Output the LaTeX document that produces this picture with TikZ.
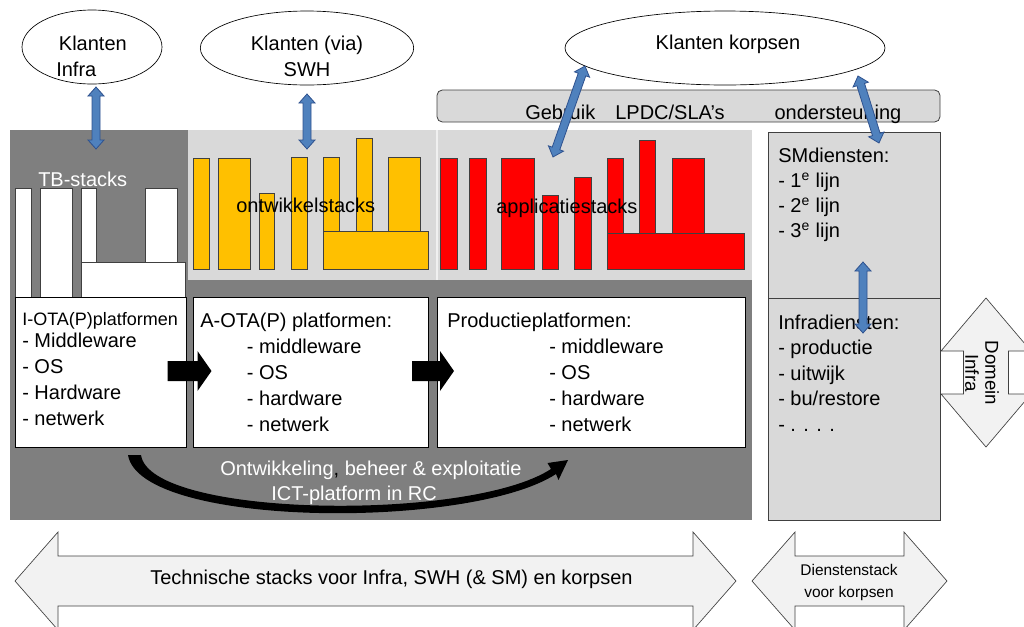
\documentclass[tikz,border=0pt]{standalone}
\usepackage{fontspec}
\setmainfont{Liberation Sans}
\usetikzlibrary{shapes.geometric}
\definecolor{Dark}{HTML}{7F7F7F}
\definecolor{Light}{HTML}{D9D9D9}
\definecolor{Outline}{HTML}{404040}
\definecolor{StackYellow}{HTML}{FFC000}
\definecolor{StackRed}{HTML}{FF0000}
\definecolor{ArrowBlue}{HTML}{4F81BD}
\definecolor{BlueLine}{HTML}{2F528F}
\definecolor{ArrowGray}{HTML}{F2F2F2}
\tikzset{klant/.style={ellipse,draw=black,fill=white,line width=.5pt,inner sep=0pt},panel/.style={rectangle,draw=black,fill=white,line width=.6pt,inner sep=0pt},dienst/.style={rectangle,draw=Outline,fill=Light,line width=.6pt,inner sep=0pt},txt/.style={inner sep=0pt,align=left,font=\fontsize{15}{19.5}\selectfont},tbstack/.style={draw=Outline,fill=white,line width=.5pt},ostack/.style={draw=Outline,fill=StackYellow,line width=.5pt},astack/.style={draw=Outline,fill=StackRed,line width=.5pt},bluedbl/.style={draw=BlueLine,fill=ArrowBlue,line width=.6pt,line join=miter},graydbl/.style={draw=Outline,fill=ArrowGray,line width=.5pt},blkarrow/.style={fill=black}}
% #1 style, #2/#3 centre, #4 angle, #5 half length, #6 head length, #7 head half width, #8 shaft half width
\newcommand{\dblpijl}[8]{\begin{scope}[shift={(#2,#3)},rotate=#4]
  \path[#1] (-#5,0) -- ({-#5+#6},#7) -- ({-#5+#6},#8) -- ({#5-#6},#8) -- ({#5-#6},#7) -- (#5,0)
    -- ({#5-#6},-#7) -- ({#5-#6},-#8) -- ({-#5+#6},-#8) -- ({-#5+#6},-#7) -- cycle;
  \end{scope}}
\newcommand{\enkpijl}[8]{\begin{scope}[shift={(#2,#3)},rotate=#4]
  \path[#1] (-#5,-#8) -- ({#5-#6},-#8) -- ({#5-#6},-#7) -- (#5,0) -- ({#5-#6},#7) -- ({#5-#6},#8) -- (-#5,#8) -- cycle;
  \end{scope}}

\begin{document}
\begin{tikzpicture}[x=0.75pt,y=-0.75pt]
  \useasboundingbox (0,0) rectangle (1024,626);
  % regions
  \fill[Dark] (10,130) rectangle (752,520);
  \fill[Light] (188,130) rectangle (752,280);
  \draw[white!60!Light,line width=1pt] (437,130) -- (437,280);
  % TB stacks
  \foreach \a/\b in {15/31,40/72}
    \draw[tbstack] (\a,188) rectangle (\b,298);
  \foreach \a/\b in {81/96,145/177}
    \draw[tbstack] (\a,188) rectangle (\b,262);
  \draw[tbstack] (81,262) rectangle (185,298);
  % ontwikkelstacks
  \foreach \a/\b/\t in {193/209/158,218/250/158,259/274/193,291/307/157}
    \draw[ostack] (\a,\t) rectangle (\b,269);
  \foreach \a/\b/\t in {323/339/157,356/372/138,388/420/157}
    \draw[ostack] (\a,\t) rectangle (\b,231);
  \draw[ostack] (323,231) rectangle (428,269);
  % applicatiestacks
  \foreach \a/\b/\t in {440/457/158,469/486/158,501/534/158,542/558/195,574/591/177}
    \draw[astack] (\a,\t) rectangle (\b,269);
  \foreach \a/\b/\t in {607/623/158,639/655/140,672/704/158}
    \draw[astack] (\a,\t) rectangle (\b,233);
  \draw[astack] (607,233) rectangle (744,269);
  \node[txt,text=white,anchor=base west] (tbT) at (38,186) {TB-stacks};
  \node[txt,anchor=base west] (ontT) at (236,212) {ontwikkelstacks};
  \node[txt,anchor=base west] (appT) at (496,213) {applicatiestacks};
  % platformen
  \node[panel,minimum width=128.25pt,minimum height=112.5pt] (iota) at (100.5,372) {};
  \node[panel,minimum width=176.25pt,minimum height=112.5pt] (aota) at (310.5,372) {};
  \node[panel,minimum width=231pt,minimum height=112.5pt] (prod) at (591,372) {};
  \node[txt,anchor=base west,font=\fontsize{13.5}{16}\selectfont] (iotaH) at (22,325) {I-OTA(P)platformen};
  \node[txt,anchor=north west] (iotaL) at (22,332.4) {- Middleware\\- OS\\- Hardware\\- netwerk};
  \node[txt,anchor=north west] (aotaL) at (200,312.4) {A-OTA(P) platformen:\\\hspace*{35pt}- middleware\\\hspace*{35pt}- OS\\\hspace*{35pt}- hardware\\\hspace*{35pt}- netwerk};
  \node[txt,anchor=north west] (prodL) at (447,312.4) {Productieplatformen:\\\hspace*{76.5pt}- middleware\\\hspace*{76.5pt}- OS\\\hspace*{76.5pt}- hardware\\\hspace*{76.5pt}- netwerk};
  \enkpijl{blkarrow}{189.5}{371}{0}{22}{14}{20}{10}
  \enkpijl{blkarrow}{433}{371}{0}{21}{14}{20}{10}
  % ontwikkelcyclus
  \fill[black] (128,455) .. controls (140,528) and (470,530) .. (556,474) -- (558.5,480) -- (568,460) -- (547.5,463) -- (551,469) .. controls (470,522) and (150,518) .. (141,455) -- cycle;
  \node[txt,text=white,anchor=base west] (devT1) at (220,475) {Ontwikkeling{\color{black},} beheer \& exploitatie};
  \node[txt,text=white,anchor=base west] (devT2) at (271,500) {ICT-platform in RC};
  % diensten
  \node[dienst,minimum width=129pt,minimum height=124.5pt] (smd) at (854,215) {};
  \node[dienst,minimum width=129pt,minimum height=166.5pt] (infrad) at (854,409) {};
  \node[txt,anchor=north west,font=\fontsize{15}{18.75}\selectfont] (smdT) at (778,147.4) {SMdiensten:\\- 1\textsuperscript{e} lijn\\- 2\textsuperscript{e} lijn\\- 3\textsuperscript{e} lijn};
  \node[txt,anchor=north west,font=\fontsize{15}{19.1}\selectfont] (infradT) at (778,314.4) {Infradiensten:\\- productie\\- uitwijk\\- bu/restore\\- . . . .};
  % afspraken
  \draw[draw=Outline,fill=Light,line width=.6pt,rounded corners=4pt] (437,90) rectangle (940,122);
  \node[txt,anchor=base west] (gebrT) at (525,119) {Gebruik\hspace{15pt}LPDC/SLA’s\hspace{37.5pt}ondersteuning};
  % klanten
  \node[klant,minimum width=105pt,minimum height=55.5pt] (klInfra) at (92,47) {};
  \node[klant,minimum width=160pt,minimum height=55.5pt] (klSWH) at (307,48) {};
  \node[klant,minimum width=240pt,minimum height=55.5pt] (klKorps) at (725,48) {};
  \node[txt,anchor=north west,font=\fontsize{15}{20}\selectfont] (klInfraT) at (56,35.4) {\hspace*{2pt}Klanten\\Infra};
  \node[txt,anchor=north,align=center,font=\fontsize{15}{20}\selectfont] (klSWHT) at (307,35.4) {Klanten (via)\\SWH};
  \node[txt,anchor=base] (klKorpsT) at (728,49) {Klanten korpsen};
  % koppelingen
  \dblpijl{bluedbl}{96}{118}{90}{31}{9}{8}{4}
  \dblpijl{bluedbl}{307}{121.5}{90}{27.5}{9}{8}{4}
  \dblpijl{bluedbl}{569}{111.5}{70.6}{48.2}{9}{8}{4}
  \dblpijl{bluedbl}{868.5}{109.5}{-72.6}{35.1}{9}{8}{4}
  \dblpijl{bluedbl}{863}{297.5}{90}{35.5}{9}{8}{4}
  % domeinen
  \dblpijl{graydbl}{375.5}{581}{0}{360.5}{43}{49}{25}
  \node[txt,anchor=base west] (techT) at (150,584) {Technische stacks voor Infra, SWH (\& SM) en korpsen};
  \dblpijl{graydbl}{849.5}{581}{0}{97.5}{43}{49}{25}
  \node[txt,align=center,anchor=center,font=\fontsize{11.6}{16.5}\selectfont] (dienstT) at (849,582) {Dienstenstack\\voor korpsen};
  \dblpijl{graydbl}{986}{372.5}{90}{74.5}{53}{45}{22.5}
  \node[txt,align=center,rotate=-90,font=\fontsize{14}{15}\selectfont] (domeinT) at (982,373) {Domein\\Infra};
\end{tikzpicture}
\end{document}
